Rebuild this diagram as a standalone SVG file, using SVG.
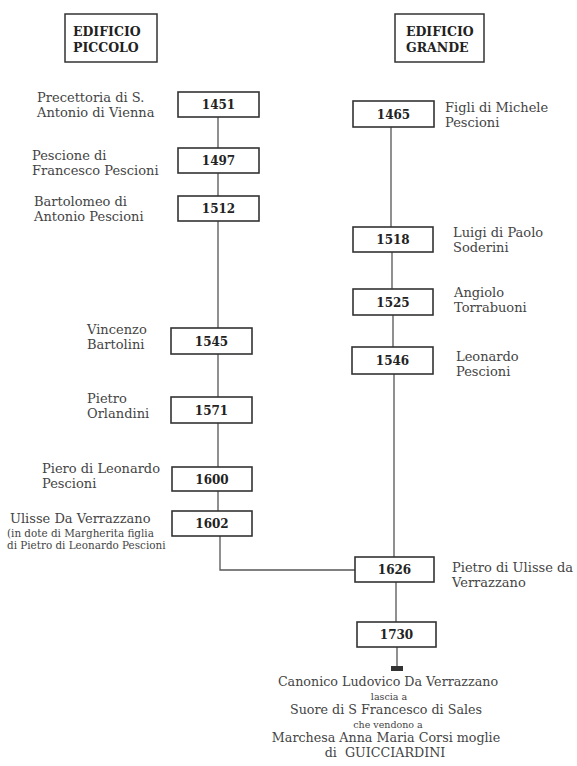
<svg xmlns="http://www.w3.org/2000/svg" width="577" height="766" viewBox="0 0 577 766">
<style>
.hdr{fill:#fff;stroke:#333;stroke-width:1.5}
.hdrt{font-family:"DejaVu Serif",serif;font-weight:bold;font-size:12.5px;fill:#222}
.box{fill:#fff;stroke:#333;stroke-width:1.6}
.yr{font-family:"DejaVu Serif",serif;font-weight:bold;font-size:12px;fill:#222;text-anchor:middle}
.lb{font-family:"DejaVu Serif",serif;font-size:13px;fill:#444}
.sm{font-family:"DejaVu Serif",serif;font-size:10.4px;fill:#444}
.bt{font-family:"DejaVu Serif",serif;font-size:12.7px;fill:#444;text-anchor:middle}
.bs{font-family:"DejaVu Serif",serif;font-size:9.5px;fill:#444;text-anchor:middle}
.ln{fill:none;stroke:#555;stroke-width:1.3}
</style>
<rect width="577" height="766" fill="#fff"/>
<g id="connectors">
<path class="ln" d="M218 117V148M218 173V196M218 221V328M218 354V397M218 423V467M218 491V511M220 536V570H355"/>
<path class="ln" d="M391 127V227M392 252V289M393 315V347M394 374V557M396 582V622M397 647V669"/>
<rect x="391" y="666" width="12" height="5" fill="#333"/>
</g>
<g id="h-piccolo"><rect class="hdr" x="65" y="14" width="92" height="48"/><text class="hdrt" x="73" y="36">EDIFICIO</text><text class="hdrt" x="73" y="52">PICCOLO</text></g>
<g id="h-grande"><rect class="hdr" x="395" y="14" width="89" height="48"/><text class="hdrt" x="406" y="36">EDIFICIO</text><text class="hdrt" x="406" y="52">GRANDE</text></g>
<g id="n1451"><rect class="box" x="178" y="92" width="81" height="25"/><text class="yr" x="218.5" y="109">1451</text><text class="lb" x="37" y="102">Precettoria di S.</text><text class="lb" x="37" y="117">Antonio di Vienna</text></g>
<g id="n1497"><rect class="box" x="178" y="148" width="81" height="25"/><text class="yr" x="218.5" y="165">1497</text><text class="lb" x="32" y="160">Pescione di</text><text class="lb" x="32" y="175">Francesco Pescioni</text></g>
<g id="n1512"><rect class="box" x="178" y="196" width="81" height="25"/><text class="yr" x="218.5" y="213">1512</text><text class="lb" x="34" y="206">Bartolomeo di</text><text class="lb" x="34" y="221">Antonio Pescioni</text></g>
<g id="n1545"><rect class="box" x="171" y="328" width="81" height="26"/><text class="yr" x="211.5" y="346">1545</text><text class="lb" x="87" y="334">Vincenzo</text><text class="lb" x="87" y="349">Bartolini</text></g>
<g id="n1571"><rect class="box" x="171" y="397" width="81" height="26"/><text class="yr" x="211.5" y="415">1571</text><text class="lb" x="87" y="403">Pietro</text><text class="lb" x="87" y="418">Orlandini</text></g>
<g id="n1600"><rect class="box" x="172" y="467" width="80" height="24"/><text class="yr" x="212" y="484">1600</text><text class="lb" x="42" y="473">Piero di Leonardo</text><text class="lb" x="42" y="488">Pescioni</text></g>
<g id="n1602"><rect class="box" x="172" y="511" width="80" height="25"/><text class="yr" x="212" y="528">1602</text><text class="lb" x="10" y="523">Ulisse Da Verrazzano</text><text class="sm" x="7" y="536.5">(in dote di Margherita figlia</text><text class="sm" x="7" y="549">di Pietro di Leonardo Pescioni</text></g>
<g id="n1465"><rect class="box" x="353" y="101" width="81" height="26"/><text class="yr" x="393.5" y="119">1465</text><text class="lb" x="445" y="112">Figli di Michele</text><text class="lb" x="445" y="127">Pescioni</text></g>
<g id="n1518"><rect class="box" x="353" y="227" width="80" height="25"/><text class="yr" x="393" y="244">1518</text><text class="lb" x="453" y="237">Luigi di Paolo</text><text class="lb" x="453" y="252">Soderini</text></g>
<g id="n1525"><rect class="box" x="353" y="289" width="80" height="26"/><text class="yr" x="393" y="307">1525</text><text class="lb" x="454" y="297">Angiolo</text><text class="lb" x="454" y="312">Torrabuoni</text></g>
<g id="n1546"><rect class="box" x="352" y="347" width="81" height="27"/><text class="yr" x="392.5" y="365">1546</text><text class="lb" x="456" y="361">Leonardo</text><text class="lb" x="456" y="376">Pescioni</text></g>
<g id="n1626"><rect class="box" x="355" y="557" width="79" height="25"/><text class="yr" x="394.5" y="574">1626</text><text class="lb" x="452" y="572">Pietro di Ulisse da</text><text class="lb" x="452" y="587">Verrazzano</text></g>
<g id="n1730"><rect class="box" x="357" y="622" width="79" height="25"/><text class="yr" x="396.5" y="639">1730</text></g>
<g id="footer">
<text class="bt" x="388" y="686">Canonico Ludovico Da Verrazzano</text>
<text class="bs" x="389" y="700">lascia a</text>
<text class="bt" x="386" y="714">Suore di S Francesco di Sales</text>
<text class="bs" x="388" y="728">che vendono a</text>
<text class="bt" x="386" y="742">Marchesa Anna Maria Corsi moglie</text>
<text class="bt" x="385" y="757" xml:space="preserve">di  GUICCIARDINI</text>
</g>
</svg>
